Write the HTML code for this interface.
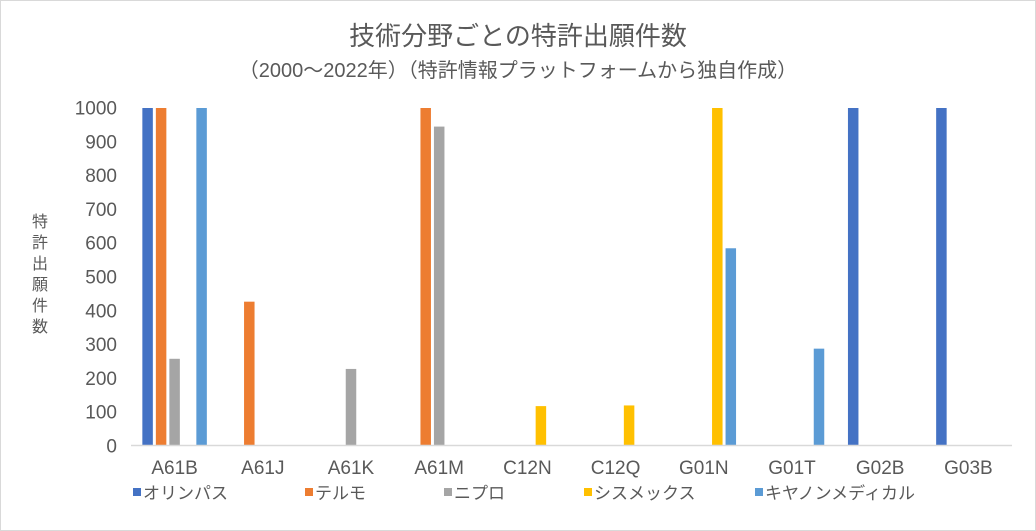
<!DOCTYPE html>
<html><head><meta charset="utf-8"><style>
body{margin:0;background:#fff;}
svg{display:block;font-family:"Liberation Sans","Noto Sans CJK JP",sans-serif;}
</style></head><body>
<svg id="chart" width="1036" height="531">
<rect x="0.5" y="0.5" width="1035" height="530" fill="#fff" stroke="#d9d9d9"/>
<text x="518" y="45" text-anchor="middle" font-size="26" fill="#595959">技術分野ごとの特許出願件数</text>
<text x="518" y="77" text-anchor="middle" font-size="20" fill="#595959">（2000～2022年）（特許情報プラットフォームから独自作成）</text>
<text x="40" y="227" text-anchor="middle" font-size="16" fill="#595959"><tspan x="40" dy="0">特</tspan><tspan x="40" dy="21">許</tspan><tspan x="40" dy="21">出</tspan><tspan x="40" dy="21">願</tspan><tspan x="40" dy="21">件</tspan><tspan x="40" dy="21">数</tspan></text>
<g id="yticks"></g><g id="bars"></g><g id="xlabels"></g><g id="legend"></g>
<line x1="131" y1="445.5" x2="1012" y2="445.5" stroke="#d9d9d9" stroke-width="1.5"/>
</svg>
<script>
const categories=["A61B","A61J","A61K","A61M","C12N","C12Q","G01N","G01T","G02B","G03B"];
const seriesNames=["オリンパス","テルモ","ニプロ","シスメックス","キヤノンメディカル"];
const seriesColors=["#4472c4","#ed7d31","#a5a5a5","#ffc000","#5b9bd5"];
const olympus=[1000,0,0,0,0,0,0,0,1000,1000];
const terumo=[1000,427,0,1000,0,0,0,0,0,0];
const nipro=[258,0,228,945,0,0,0,0,0,0];
const sysmex=[0,0,0,0,118,120,1000,0,0,0];
const canon=[1000,0,0,0,0,0,585,288,0,0];
const yTicks=[0,100,200,300,400,500,600,700,800,900,1000];
const series=[olympus,terumo,nipro,sysmex,canon];
const NS="http://www.w3.org/2000/svg";
const x0=130.5,x1=1012.5,yBase=446,yTop=108,yMax=1000;
const y=v=>yBase-(Math.min(v,yMax)/yMax)*(yBase-yTop);
const bw=(x1-x0)/categories.length;
const step=13.5,barW=10.5;
function mk(tag,attrs,parent){const e=document.createElementNS(NS,tag);for(const k in attrs)e.setAttribute(k,attrs[k]);parent.appendChild(e);return e;}
const yt=document.getElementById('yticks');
yTicks.forEach(t=>{const e=mk('text',{x:117,y:y(t)+6.5,'text-anchor':'end','font-size':19,fill:'#595959'},yt);e.textContent=t;

});
const bg=document.getElementById('bars');
categories.forEach((c,i)=>{const cx=x0+bw*(i+0.5);
series.forEach((s,j)=>{const v=s[i];if(!v)return;const bx=cx-2*step+j*step-barW/2;
const r=mk('rect',{x:bx,y:y(v),width:barW,height:yBase-y(v),fill:seriesColors[j]},bg);

});
const t=mk('text',{x:cx,y:474,'text-anchor':'middle','font-size':19,fill:'#595959'},document.getElementById('xlabels'));t.textContent=c;

});
const lg=document.getElementById('legend');
const lx=[133,305,444,584,755];
seriesNames.forEach((n,j)=>{const g=mk('g',{},lg);


mk('rect',{x:lx[j],y:488,width:8,height:8,fill:seriesColors[j]},g);
const t=mk('text',{x:lx[j]+10,y:499,'font-size':17,fill:'#595959'},g);t.textContent=n;});
</script>
</body></html>
